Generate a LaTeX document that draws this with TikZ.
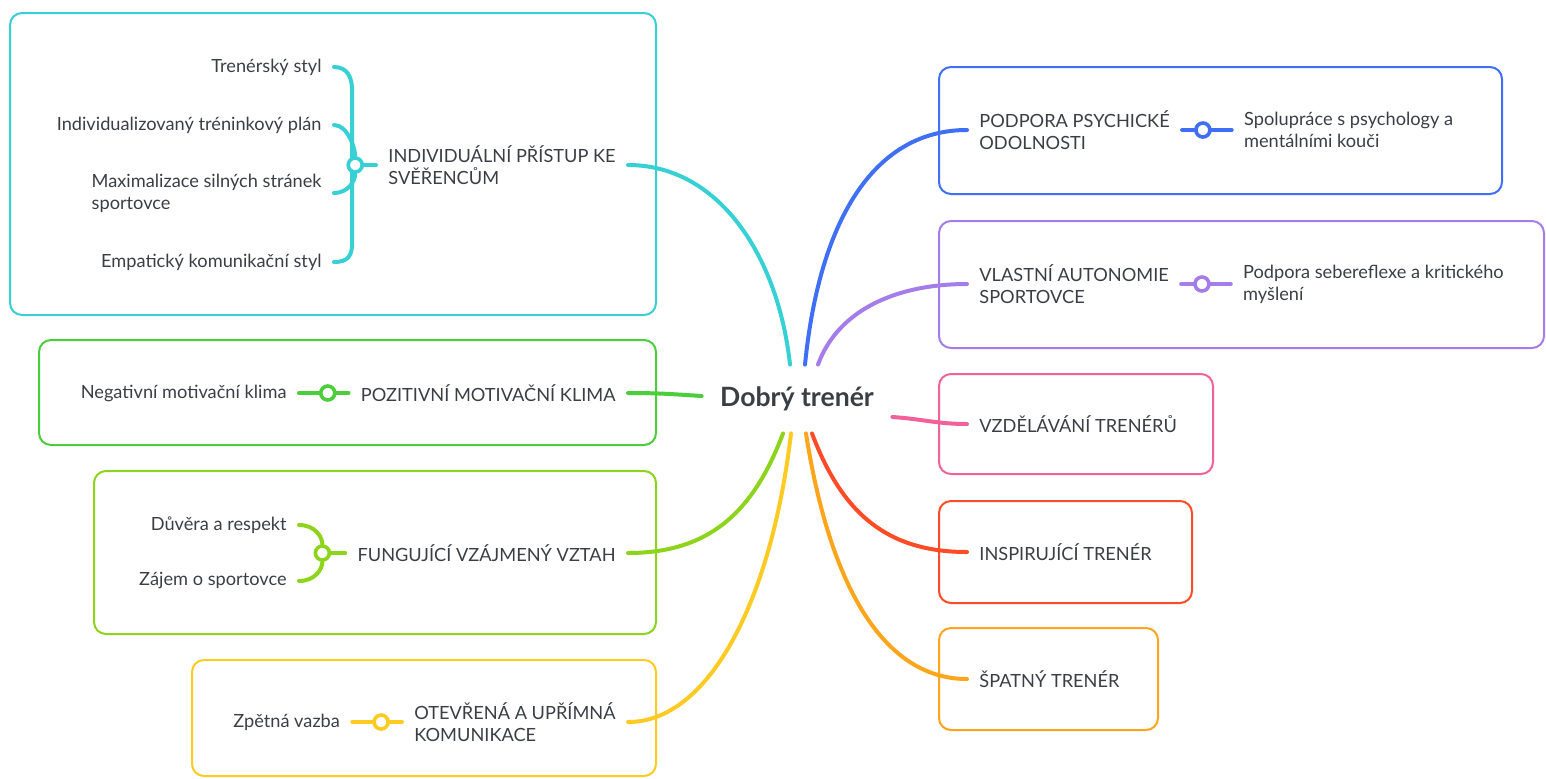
\documentclass[tikz,border=0pt]{standalone}
\usepackage{fontspec}
\setmainfont{Lato}
\usetikzlibrary{positioning,calc,backgrounds}

\definecolor{ink}{RGB}{58,63,69}
\definecolor{brCyan}{RGB}{54,208,213}
\definecolor{brBlue}{RGB}{63,111,245}
\definecolor{brPurple}{RGB}{164,125,235}
\definecolor{brPink}{RGB}{242,98,154}
\definecolor{brRed}{RGB}{255,75,38}
\definecolor{brOrange}{RGB}{255,165,28}
\definecolor{brGreen}{RGB}{76,205,60}
\definecolor{brLime}{RGB}{142,212,28}
\definecolor{brYellow}{RGB}{255,203,34}

\begin{document}
\begin{tikzpicture}[
    x=0.5pt, y=-0.5pt,
    every node/.style={text=ink, font=\fontsize{9.1}{10.9}\selectfont},
    lbl/.style={inner xsep=6pt, inner ysep=2pt, align=left},
    root/.style={font=\fontsize{13.3}{15}\selectfont\bfseries, minimum width=95pt, minimum height=34pt},
    hub/.style={circle, draw=#1, fill=white, line width=1.8pt, minimum size=7pt, inner sep=0pt},
    frame/.style={draw=#1, line width=1pt, rounded corners=6pt},
    br/.style={draw=#1, line width=2pt, line cap=round}
]
\useasboundingbox (0,0) rectangle (1546,778);

% centre
\node[root] (root) at (797,399) {Dobrý trenér};

% left side
\node[lbl, anchor=east] (ind) at (628,165) {INDIVIDUÁLNÍ PŘÍSTUP KE\\SVĚŘENCŮM};
\node[hub=brCyan, left=6pt of ind] (hInd) {};
\node[lbl, anchor=east] (ind1) at (334,67) {Trenérský styl};
\node[lbl, anchor=east] (ind2) at (334,125) {Individualizovaný tréninkový plán};
\node[lbl, anchor=east] (ind3) at (334,193) {Maximalizace silných stránek\\sportovce};
\node[lbl, anchor=east] (ind4) at (334,262) {Empatický komunikační styl};

\node[lbl, anchor=east] (poz) at (628,393) {POZITIVNÍ MOTIVAČNÍ KLIMA};
\node[hub=brGreen, left=6pt of poz] (hPoz) {};
\node[lbl, left=10pt of hPoz] (poz1) {Negativní motivační klima};

\node[lbl, anchor=east] (fun) at (628,553) {FUNGUJÍCÍ VZÁJMENÝ VZTAH};
\node[hub=brLime, left=7pt of fun] (hFun) {};
\node[lbl, anchor=east] (fun1) at (299,525) {Důvěra a respekt};
\node[lbl, anchor=east] (fun2) at (299,581) {Zájem o sportovce};

\node[lbl, anchor=east] (otv) at (628,722) {OTEVŘENÁ A UPŘÍMNÁ\\KOMUNIKACE};
\node[hub=brYellow, left=6pt of otv] (hOtv) {};
\node[lbl, left=10pt of hOtv] (otv1) {Zpětná vazba};

% right side
\node[lbl, anchor=west] (psy) at (967,130) {PODPORA PSYCHICKÉ\\ODOLNOSTI};
\node[hub=brBlue, right=6pt of psy] (hPsy) {};
\node[lbl, right=10pt of hPsy] (psy1) {Spolupráce s psychology a\\mentálními kouči};

\node[lbl, anchor=west] (aut) at (967,284) {VLASTNÍ AUTONOMIE\\SPORTOVCE};
\node[hub=brPurple, right=6pt of aut] (hAut) {};
\node[lbl, right=10pt of hAut] (aut1) {Podpora sebereflexe a kritického\\myšlení};

\node[lbl, anchor=west] (vzd) at (967,424) {VZDĚLÁVÁNÍ TRENÉRŮ};
\node[lbl, anchor=west] (ins) at (967,552) {INSPIRUJÍCÍ TRENÉR};
\node[lbl, anchor=west] (spa) at (967,679) {ŠPATNÝ TRENÉR};

\begin{scope}[on background layer]
% frames
\draw[frame=brCyan] (10,13) rectangle (656,315);
\draw[frame=brGreen] (39,340) rectangle (656,445);
\draw[frame=brLime] (94,471) rectangle (656,634);
\draw[frame=brYellow] (192,660) rectangle (656,776);
\draw[frame=brBlue] (939,67) rectangle (1502,194);
\draw[frame=brPurple] (939,221) rectangle (1544,348);
\draw[frame=brPink] (939,374) rectangle (1213,474);
\draw[frame=brRed] (939,501) rectangle (1192,603);
\draw[frame=brOrange] (939,628) rectangle (1158,730);

% main branches
\draw[br=brCyan] ($(root.north)+(-7,0)$) .. controls +(-12,-110) and +(90,0) .. (ind.east);
\draw[br=brBlue] ($(root.north)+(8,0)$) .. controls +(15,-150) and +(-90,0) .. (psy.west);
\draw[br=brPurple] ($(root.north)+(21,0)$) .. controls +(20,-55) and +(-70,0) .. (aut.west);
\draw[br=brPink] ($(root.east)+(0,18)$) .. controls +(30,2) and +(-30,0) .. (vzd.west);
\draw[br=brRed] ($(root.south)+(15,0)$) .. controls +(30,80) and +(-80,0) .. (ins.west);
\draw[br=brOrange] ($(root.south)+(9,0)$) .. controls +(25,160) and +(-80,0) .. (spa.west);
\draw[br=brYellow] ($(root.south)+(-6,0)$) .. controls +(-20,170) and +(80,0) .. (otv.east);
\draw[br=brLime] ($(root.south)+(-14,0)$) .. controls +(-30,80) and +(80,0) .. (fun.east);
\draw[br=brGreen] ($(root.west)+(0,-3)$) .. controls +(-30,-2) and +(30,0) .. (poz.east);

% sub branches
\draw[br=brCyan] (ind1.east) .. controls +(14,0) and +(0,-14) .. ($(hInd)+(-3,-73)$)
    -- ($(hInd)+(-3,77)$) .. controls +(0,14) and +(14,0) .. (ind4.east);
\draw[br=brCyan] (ind2.east) .. controls +(14,0) and +(0,-16) .. (hInd);
\draw[br=brCyan] (ind3.east) .. controls +(14,0) and +(0,16) .. (hInd);
\draw[br=brCyan] (hInd) -- (ind.west);

\draw[br=brGreen] (poz1.east) -- (hPoz) -- (poz.west);

\draw[br=brLime] (fun1.east) .. controls +(16,0) and +(0,-16) .. (hFun)
    .. controls +(0,16) and +(16,0) .. (fun2.east);
\draw[br=brLime] (hFun) -- (fun.west);

\draw[br=brYellow] (otv1.east) -- (hOtv) -- (otv.west);
\draw[br=brBlue] (psy.east) -- (hPsy) -- (psy1.west);
\draw[br=brPurple] (aut.east) -- (hAut) -- (aut1.west);
\end{scope}
\end{tikzpicture}
\end{document}
